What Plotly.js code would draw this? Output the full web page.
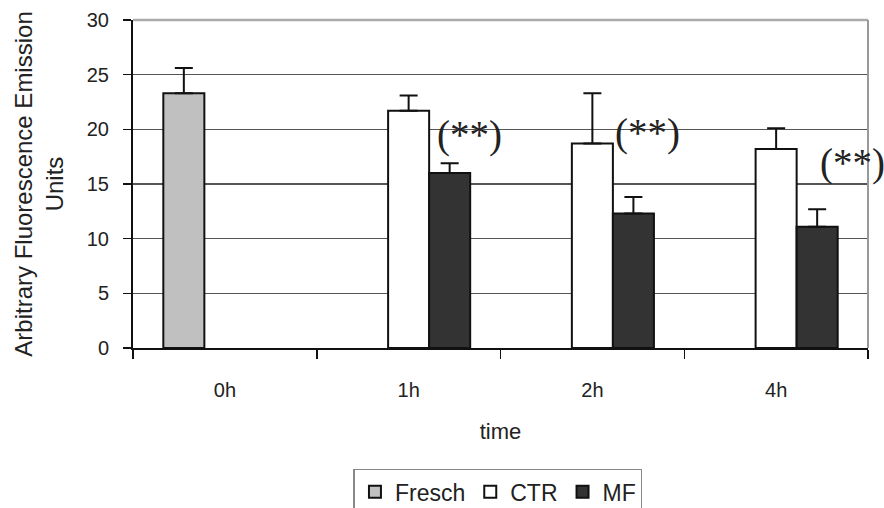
<!DOCTYPE html>
<html>
<head>
<meta charset="utf-8">
<script src="https://cdn.plot.ly/plotly-3.0.1.min.js"></script>
<style>html,body{margin:0;padding:0;background:#fff;}</style>
</head>
<body>
<div id="chart" style="width:884px;height:508px;"></div>
<script>
const categories = ['0h', '1h', '2h', '4h'];
const freschValues = [23.3, null, null, null];
const freschErrors = [2.3, 0, 0, 0];
const ctrValues = [null, 21.7, 18.7, 18.2];
const ctrErrors = [0, 1.4, 4.6, 1.9];
const mfValues = [null, 16.0, 12.3, 11.1];
const mfErrors = [0, 0.9, 1.5, 1.6];
const sigLabels = ['(**)', '(**)', '(**)'];
const sigCategories = ['1h', '2h', '4h'];
const sigY = [19.5, 19.7, 16.9];
const sigShift = [61, 55, 76];

function zeros(n){ return new Array(n).fill(0); }

const errStyle = {color:'#111', thickness:2, width:9};
const lineStyle = {color:'#111', width:2};

const traces = [
  {type:'bar', name:'Fresch', x:categories, y:freschValues,
   marker:{color:'#c0c0c0', line:lineStyle},
   error_y:Object.assign({type:'data', symmetric:false, array:freschErrors, arrayminus:zeros(4)}, errStyle)},
  {type:'bar', name:'CTR', x:categories, y:ctrValues,
   marker:{color:'#ffffff', line:lineStyle},
   error_y:Object.assign({type:'data', symmetric:false, array:ctrErrors, arrayminus:zeros(4)}, errStyle)},
  {type:'bar', name:'MF', x:categories, y:mfValues,
   marker:{color:'#333333', line:lineStyle},
   error_y:Object.assign({type:'data', symmetric:false, array:mfErrors, arrayminus:zeros(4)}, errStyle)}
];

const annotations = sigLabels.map((t, i) => ({
  xref:'x', yref:'y', x:sigCategories[i], y:sigY[i], xshift:sigShift[i],
  text:t, showarrow:false,
  font:{family:'Liberation Serif, Times New Roman, serif', size:39, color:'#222'}
}));

const layout = {
  width:884, height:508,
  margin:{l:133, r:16, t:20, b:160, pad:0, autoexpand:false},
  paper_bgcolor:'#ffffff', plot_bgcolor:'#ffffff',
  font:{family:'Liberation Sans, Arial, sans-serif', size:20, color:'#222'},
  barmode:'group', bargap:0.33, bargroupgap:0,
  showlegend:true,
  legend:{orientation:'h', xref:'container', yref:'container', x:0.5633, xanchor:'center', y:0.077, yanchor:'top',
          bordercolor:'#888', borderwidth:1.5, font:{size:23, color:'#222'},
          itemwidth:30, tracegroupgap:0},
  xaxis:{
    type:'category', range:[-0.5, 3.5], tickson:'boundaries', ticks:'outside', ticklen:9, tickwidth:1.5, tickcolor:'#111',
    showline:true, linecolor:'#111', linewidth:2, showgrid:false, zeroline:false,
    ticklabelstandoff:23, automargin:false,
    tickfont:{size:20, color:'#222'},
    title:{text:'time', font:{size:22, color:'#222'}, standoff:24}
  },
  yaxis:{
    range:[0,30], dtick:5, ticks:'outside', ticklen:8, tickwidth:1.5, tickcolor:'#111',
    showline:true, linecolor:'#111', linewidth:2,
    showgrid:true, gridcolor:'#555', gridwidth:1.3, zeroline:false,
    ticklabelstandoff:10, automargin:false,
    tickfont:{size:20, color:'#222'},
    title:{text:'Arbitrary Fluorescence Emission<br>Units', font:{size:24, color:'#222'}, standoff:16}
  },
  shapes:[
    {type:'line', xref:'paper', yref:'paper', x0:0, x1:1, y0:1, y1:1, line:{color:'#aaa', width:2.5}, layer:'above'},
    {type:'line', xref:'paper', yref:'paper', x0:1, x1:1, y0:0, y1:1, line:{color:'#999', width:2}, layer:'above'}
  ],
  annotations:annotations
};

Plotly.newPlot('chart', traces, layout, {displayModeBar:false, staticPlot:true});
</script>
</body>
</html>
